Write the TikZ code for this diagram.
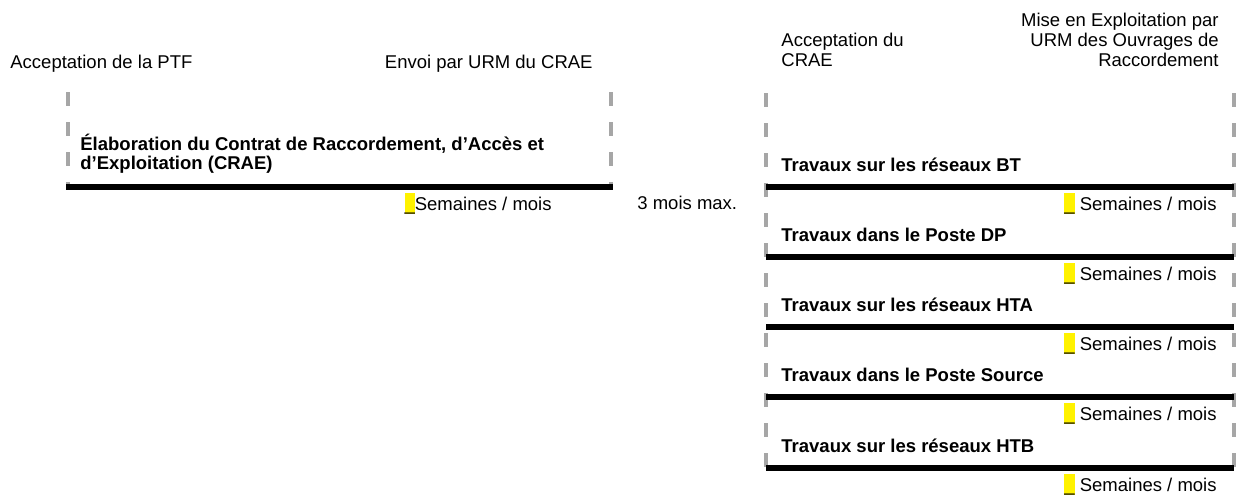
\documentclass[tikz,border=0pt]{standalone}
\usepackage{fontspec}
\setmainfont{Liberation Sans}
\definecolor{sepgray}{HTML}{A6A6A6}
\newcommand{\blank}{{\setlength{\fboxsep}{0pt}\colorbox{yellow}{\rule[-0.2em]{0pt}{1.1em}\_}}}
\begin{document}
\begin{tikzpicture}[x=0.5pt,y=-0.5pt,
    lbl/.style={inner sep=0pt,font=\fontsize{9.25pt}{9.9pt}\selectfont},
    task/.style={lbl,font=\fontsize{9.25pt}{9.2pt}\selectfont\bfseries},
    bar/.style={line width=3pt},
    sep/.style={line width=2pt,color=sepgray,dash pattern=on 7pt off 8pt}]
    \useasboundingbox (0,0) rectangle (1236,494);
    \node [lbl,anchor=base west] (ptf) at (10,68) {Acceptation de la PTF};
    \node [lbl,anchor=base east] (envoi) at (593,68) {Envoi par URM du CRAE};
    \draw [sep] (67.5,92) -- (67.5,185);
    \draw [sep] (611,92) -- (611,185);
    \draw [bar] (66,187) -- (613,187);
    \node [task,anchor=base west,align=left] (crae) at (80,169) {Élaboration du Contrat de Raccordement, d’Accès et\\d’Exploitation (CRAE)};
    \node [lbl,anchor=base east] (delai) at (552,210) {\blank Semaines / mois};
    \node [lbl,anchor=base west] (max) at (637,209) {3 mois max.};
    \node [lbl,anchor=base west,align=left] (accept) at (781,66) {Acceptation du\\CRAE};
    \node [lbl,anchor=base east,align=right] (mise) at (1219,66) {Mise en Exploitation par\\URM des Ouvrages de\\Raccordement};
    \draw [sep] (766,93) -- (766,470);
    \draw [sep] (1234,93) -- (1234,470);
    \foreach \y/\t [count=\i] in {187/Travaux sur les réseaux BT,257/Travaux dans le Poste DP,327/Travaux sur les réseaux HTA,397/Travaux dans le Poste Source,468/Travaux sur les réseaux HTB}{
        \draw [bar] (766,\y) -- (1234,\y);
        \node [task,anchor=base west] (trav\i) at (781,\y-15.5) {\t};
        \node [lbl,anchor=base east] (duree\i) at (1217,\y+23) {\blank\ Semaines / mois};
    }
\end{tikzpicture}
\end{document}
